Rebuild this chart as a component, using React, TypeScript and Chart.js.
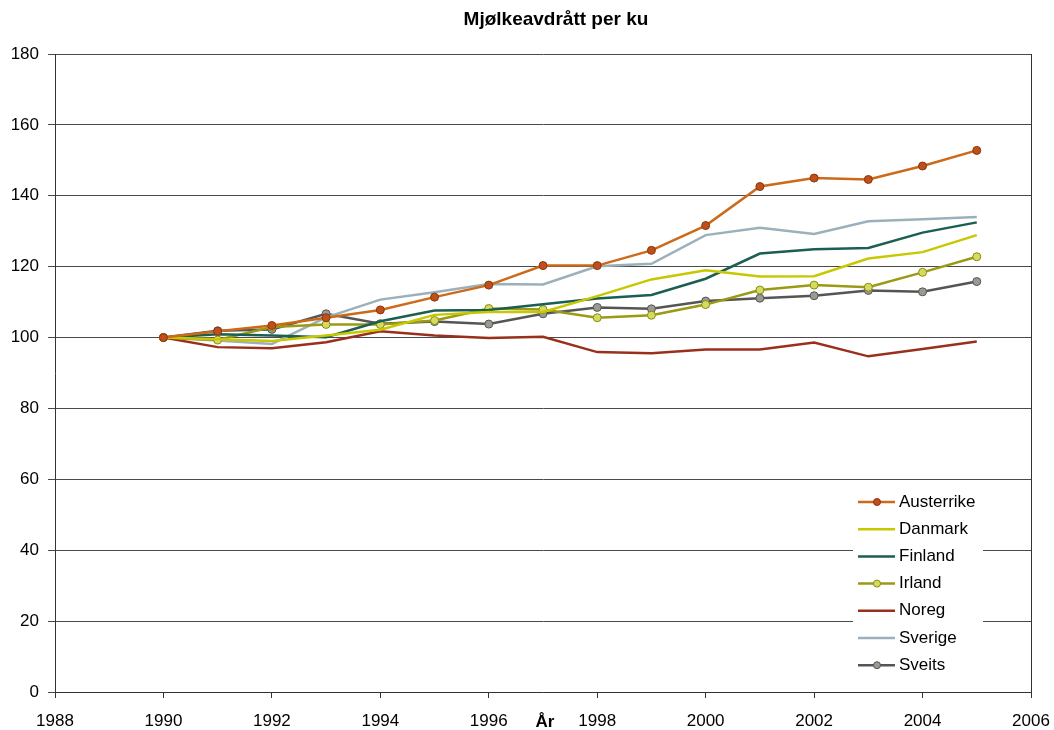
import React, { useEffect, useRef } from "react";
import { Chart, registerables } from "chart.js";
Chart.register(...registerables);

const years = [1990, 1991, 1992, 1993, 1994, 1995, 1996, 1997, 1998, 1999, 2000, 2001, 2002, 2003, 2004, 2005];
const austerrike = [100, 101.8, 103.4, 105.6, 107.8, 111.4, 114.8, 120.3, 120.3, 124.6, 131.6, 142.6, 145.0, 144.6, 148.4, 152.8];
const danmark = [100, 99.5, 99.0, 100.6, 102.2, 106.4, 107.2, 107.2, 111.7, 116.4, 119.0, 117.2, 117.3, 122.3, 124.1, 128.9];
const finland = [100, 100.9, 100.6, 100.1, 104.6, 107.6, 107.8, 109.4, 111.0, 112.0, 116.6, 123.7, 124.9, 125.3, 129.6, 132.5];
const irland = [100, 99.3, 103.0, 103.7, 103.7, 104.8, 108.2, 107.9, 105.6, 106.3, 109.3, 113.4, 114.8, 114.2, 118.4, 122.8];
const noreg = [100, 97.3, 97.0, 98.7, 101.8, 100.6, 99.9, 100.2, 95.9, 95.6, 96.6, 96.6, 98.6, 94.7, 96.8, 98.9];
const sverige = [100, 99.2, 98.2, 105.7, 110.7, 112.8, 115.1, 115.0, 120.1, 120.8, 128.9, 131.0, 129.2, 132.8, 133.4, 134.0];
const sveits = [100, 101.9, 102.3, 106.7, 103.9, 104.5, 103.8, 106.7, 108.5, 108.1, 110.3, 111.1, 111.8, 113.3, 112.9, 115.8];

const xTicks = [1988, 1990, 1992, 1994, 1996, 1998, 2000, 2002, 2004, 2006];
const yTicks = [0, 20, 40, 60, 80, 100, 120, 140, 160, 180];

const title = "Mjølkeavdrått per ku";
const xTitle = "År";

const FONT = "'Liberation Sans', Arial, sans-serif";

type S = { label: string; data: number[]; color: string; marker: boolean; mFill?: string; mBorder?: string };
const series: S[] = [
  { label: "Austerrike", data: austerrike, color: "#CC6A1A", marker: true, mFill: "#C0501A", mBorder: "#8A3510" },
  { label: "Danmark", data: danmark, color: "#C8C800", marker: false },
  { label: "Finland", data: finland, color: "#1B5E52", marker: false },
  { label: "Irland", data: irland, color: "#9A9A14", marker: true, mFill: "#D4DC60", mBorder: "#8A8A10" },
  { label: "Noreg", data: noreg, color: "#99301C", marker: false },
  { label: "Sverige", data: sverige, color: "#9BB0BA", marker: false },
  { label: "Sveits", data: sveits, color: "#555555", marker: true, mFill: "#9A9A92", mBorder: "#555555" },
];

export default function App() {
  const ref = useRef<HTMLCanvasElement | null>(null);
  useEffect(() => {
    if (!ref.current) return;
    const extras = {
      id: "extras",
      afterDraw(chart: any) {
        const ctx = chart.ctx;
        const ca = chart.chartArea;
        ctx.save();
        // plot border right
        ctx.strokeStyle = "#333";
        ctx.lineWidth = 1;
        ctx.beginPath();
        ctx.moveTo(Math.round(ca.right) + 0.5, ca.top);
        ctx.lineTo(Math.round(ca.right) + 0.5, ca.bottom);
        ctx.stroke();
        // title
        ctx.fillStyle = "#000";
        ctx.font = `bold 19px ${FONT}`;
        ctx.textAlign = "center";
        ctx.textBaseline = "middle";
        ctx.fillText(title, 556, 20);
        // x title
        ctx.font = `bold 17px ${FONT}`;
        ctx.fillText(xTitle, 545, 722);
        // legend
        const lx = 853, ly = 487, lw = 130, lh = 193;
        ctx.fillStyle = "#fff";
        ctx.fillRect(lx, ly, lw, lh);
        ctx.font = `17px ${FONT}`;
        ctx.textAlign = "left";
        series.forEach((s, i) => {
          const y = 502 + i * 27.2;
          ctx.strokeStyle = s.color;
          ctx.lineWidth = 2.5;
          ctx.beginPath();
          ctx.moveTo(858, y);
          ctx.lineTo(895, y);
          ctx.stroke();
          if (s.marker) {
            ctx.beginPath();
            ctx.arc(877, y, 3.5, 0, Math.PI * 2);
            ctx.fillStyle = s.mFill!;
            ctx.fill();
            ctx.lineWidth = 1;
            ctx.strokeStyle = s.mBorder!;
            ctx.stroke();
          }
          ctx.fillStyle = "#000";
          ctx.fillText(s.label, 899, y);
        });
        ctx.restore();
      },
    };
    const chart = new Chart(ref.current, {
      type: "line",
      data: {
        datasets: series.map((s) => ({
          label: s.label,
          data: years.map((yr, i) => ({ x: yr, y: s.data[i] })),
          borderColor: s.color,
          backgroundColor: s.mFill || s.color,
          borderWidth: 2.5,
          pointRadius: s.marker ? 4 : 0,
          pointBackgroundColor: s.mFill,
          pointBorderColor: s.mBorder,
          pointBorderWidth: 1,
          tension: 0,
          fill: false,
        })),
      },
      options: {
        animation: false,
        responsive: false,
        events: [],
        layout: { padding: { top: 54, right: 23, left: 0, bottom: 0 } },
        plugins: { legend: { display: false }, title: { display: false }, tooltip: { enabled: false } },
        scales: {
          x: {
            type: "linear",
            min: 1988,
            max: 2006,
            afterBuildTicks: (sc: any) => { sc.ticks = xTicks.map((v) => ({ value: v })); },
            afterFit: (sc: any) => { sc.height = 38; sc.paddingLeft = 0; sc.paddingRight = 0; },
            grid: { display: true, drawOnChartArea: false, drawTicks: true, tickLength: 6, color: "#333" },
            border: { display: true, color: "#333", width: 1 },
            ticks: { color: "#000", font: { family: FONT, size: 17 }, padding: 13, maxRotation: 0, autoSkip: false, callback: (v: any) => String(v) },
          },
          y: {
            min: 0,
            max: 180,
            afterBuildTicks: (sc: any) => { sc.ticks = yTicks.map((v) => ({ value: v })); },
            afterFit: (sc: any) => { sc.width = 55; sc.paddingTop = 0; sc.paddingBottom = 0; },
            grid: { display: true, drawOnChartArea: true, drawTicks: true, tickLength: 7, color: "#4a4a4a", lineWidth: 1 },
            border: { display: true, color: "#333", width: 1 },
            ticks: { color: "#000", font: { family: FONT, size: 17 }, padding: 9, callback: (v: any) => String(v) },
          },
        },
      },
      plugins: [extras],
    } as any);
    return () => chart.destroy();
  }, []);
  return (
    <div style={{ position: "fixed", left: 0, top: 0, width: 1054, height: 730, background: "#fff" }}>
      <canvas ref={ref} width={1054} height={730} style={{ width: 1054, height: 730 }} />
    </div>
  );
}
